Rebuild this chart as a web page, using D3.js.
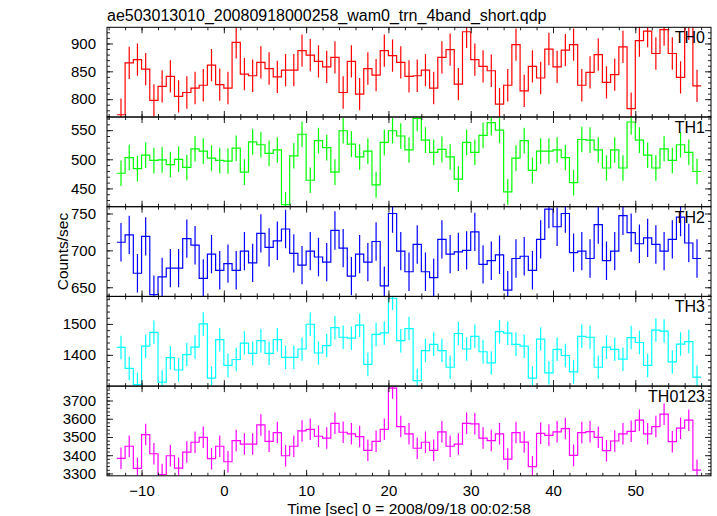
<!DOCTYPE html>
<html><head><meta charset="utf-8">
<script src="https://cdn.jsdelivr.net/npm/d3@7"></script>
<style>
body{margin:0;background:#fff}
svg{display:block}
text{font-family:"Liberation Sans",Arial,Helvetica,sans-serif}
</style>
</head><body>
<svg id="chart" width="717" height="516"></svg>
<script>
const chartTitle = "ae503013010_20080918000258_wam0_trn_4band_short.qdp";
const xTitle = "Time [sec] 0 = 2008/09/18 00:02:58";
const yTitle = "Counts/sec";

const times = [-12.5,-11.5,-10.5,-9.5,-8.5,-7.5,-6.5,-5.5,-4.5,-3.5,-2.5,-1.5,-0.5,0.5,1.5,2.5,3.5,4.5,5.5,6.5,7.5,8.5,9.5,10.5,11.5,12.5,13.5,14.5,15.5,16.5,17.5,18.5,19.5,20.5,21.5,22.5,23.5,24.5,25.5,26.5,27.5,28.5,29.5,30.5,31.5,32.5,33.5,34.5,35.5,36.5,37.5,38.5,39.5,40.5,41.5,42.5,43.5,44.5,45.5,46.5,47.5,48.5,49.5,50.5,51.5,52.5,53.5,54.5,55.5,56.5,57.5];

const th0 = [772,865,871,854,798,823,841,805,812,820,825,861,826,820,902,845,842,866,855,840,852,852,887,879,868,858,875,812,868,809,855,843,887,
  878,866,841,842,852,820,875,889,827,921,871,859,851,791,825,898,815,859,838,890,858,888,898,825,848,880,830,844,894,783,905,922,882,925,882,839,935,824];
const th1 = [476,503,484,507,498,499,491,500,486,518,514,502,498,497,519,478,530,525,510,516,422,506,543,464,532,520,478,549,526,504,514,456,529,
  549,540,516,570,533,512,517,504,466,529,512,541,563,550,444,502,532,481,514,514,516,503,460,534,533,516,485,516,485,564,533,507,485,518,498,525,512,479];
const th2 = [711,721,669,719,640,664,676,676,716,707,662,695,673,682,673,699,683,723,704,713,729,696,680,699,691,684,727,703,665,695,684,712,652,
  750,699,671,708,671,663,715,695,698,700,725,681,686,694,646,689,692,673,715,756,732,750,697,699,689,735,686,699,747,724,709,717,708,699,715,745,710,689];
const th3 = [1424,1356,1304,1428,1473,1312,1391,1351,1401,1425,1500,1325,1449,1366,1385,1438,1405,1446,1405,1449,1392,1392,1419,1499,1406,1430,1488,1457,1454,1496,1369,1466,1471,
  1583,1446,1485,1317,1414,1434,1414,1360,1469,1419,1460,1410,1374,1475,1470,1434,1428,1325,1451,1342,1418,1398,1345,1460,1457,1360,1425,1418,1386,1456,1440,1366,1480,1477,1377,1435,1443,1328];
const th0123 = [3383,3449,3328,3513,3408,3294,3397,3329,3417,3471,3498,3381,3449,3364,3480,3461,3461,3566,3476,3524,3397,3449,3533,3542,3504,3494,3575,3526,3517,3502,3427,3476,3542,
  3768,3557,3517,3438,3471,3427,3528,3449,3461,3575,3572,3494,3480,3517,3379,3524,3472,3337,3520,3509,3528,3546,3399,3524,3529,3498,3425,3478,3517,3531,3592,3517,3557,3625,3474,3548,3592,3318];

const panelNames = ["TH0","TH1","TH2","TH3","TH0123"];
const panelSeries = [th0, th1, th2, th3, th0123];
const panelErrors = [29, 22, 26, 38, 59];
const panelColors = ["#ff0000","#00ff00","#0000ff","#00ffff","#ff00ff"];
const panelDomains = [[768,929],[418.6,572.6],[637.6,759.2],[1299,1589],[3287,3779]];
const panelTicks = [[800,850,900],[450,500,550],[650,700,750],[1400,1500],[3300,3400,3500,3600,3700]];
const panelMinorSteps = [10,10,10,20,20];
const xMajorTicks = [-10,0,10,20,30,40,50];
const xMinorStep = 2;
const binWidth = 1;

const svg = d3.select("#chart");
const left = 107, right = 711, top0 = 27.3, panelH = 89.7;
const fontFam = '"Liberation Sans",Arial,Helvetica,sans-serif';

const x = d3.scaleLinear().domain([-14.2, 59.2]).range([left, right]);
const xMinor = d3.range(-14, 60, xMinorStep);

svg.append("text").attr("x", left).attr("y", 21).attr("font-size", 16).attr("fill","#000").text(chartTitle);

const defs = svg.append("defs");

panelNames.forEach((name, p) => {
  const pt = top0 + p * panelH, pb = pt + panelH;
  const y = d3.scaleLinear().domain(panelDomains[p]).range([pb, pt]);
  const g = svg.append("g");
  const clipId = "clip" + p;
  defs.append("clipPath").attr("id", clipId).append("rect")
    .attr("x", left).attr("y", pt).attr("width", right - left).attr("height", panelH);
  const data = times.map((t, i) => ({t, v: panelSeries[p][i], e: panelErrors[p]}));
  const pts = [];
  data.forEach(d => { pts.push([d.t - binWidth/2, d.v]); pts.push([d.t + binWidth/2, d.v]); });
  const line = d3.line().x(d => x(d[0])).y(d => y(d[1]));
  const dg = g.append("g").attr("clip-path", `url(#${clipId})`);
  dg.selectAll("line.err").data(data).enter().append("line")
    .attr("x1", d => x(d.t)).attr("x2", d => x(d.t))
    .attr("y1", d => y(d.v - d.e)).attr("y2", d => y(d.v + d.e))
    .attr("stroke", panelColors[p]).attr("stroke-width", 1.2);
  dg.append("path").attr("d", line(pts)).attr("fill","none")
    .attr("stroke", panelColors[p]).attr("stroke-width", 1.2);

  const yMinor = d3.range(Math.ceil(panelDomains[p][0]/panelMinorSteps[p])*panelMinorSteps[p], panelDomains[p][1], panelMinorSteps[p]);
  const addAxis = (axis, tr) => {
    const a = g.append("g").attr("transform", tr).call(axis);
    a.select(".domain").remove();
    a.selectAll("line").attr("stroke", "#222");
    a.attr("font-family", fontFam).attr("font-size", 15);
    a.selectAll("text").attr("fill", "#000");
    return a;
  };
  addAxis(d3.axisBottom(x).tickValues(xMinor).tickSize(-3).tickFormat(""), `translate(0,${pb})`);
  addAxis(d3.axisTop(x).tickValues(xMinor).tickSize(-3).tickFormat(""), `translate(0,${pt})`);
  addAxis(d3.axisTop(x).tickValues(xMajorTicks).tickSize(-6).tickFormat(""), `translate(0,${pt})`);
  if (p === panelNames.length - 1) {
    addAxis(d3.axisBottom(x).tickValues(xMajorTicks).tickSize(-6).tickPadding(10), `translate(0,${pb})`);
  } else {
    addAxis(d3.axisBottom(x).tickValues(xMajorTicks).tickSize(-6).tickFormat(""), `translate(0,${pb})`);
  }
  addAxis(d3.axisLeft(y).tickValues(yMinor).tickSize(-3).tickFormat(""), `translate(${left},0)`);
  addAxis(d3.axisRight(y).tickValues(yMinor).tickSize(-3).tickFormat(""), `translate(${right},0)`);
  addAxis(d3.axisLeft(y).tickValues(panelTicks[p]).tickSize(-6).tickPadding(11).tickFormat(d3.format("d")), `translate(${left},0)`);
  addAxis(d3.axisRight(y).tickValues(panelTicks[p]).tickSize(-6).tickFormat(""), `translate(${right},0)`);

  g.append("rect").attr("x", left).attr("y", pt).attr("width", right-left).attr("height", panelH)
    .attr("fill","none").attr("stroke","#000").attr("stroke-width",1);
  g.append("text").attr("x", 705).attr("y", pt + 16).attr("text-anchor","end")
    .attr("font-size", 16).attr("fill","#000").text(name);
});

svg.append("text").attr("x", (left+right)/2).attr("y", 514).attr("text-anchor","middle")
  .attr("font-size", 15.5).attr("fill","#000").text(xTitle);
svg.append("text").attr("transform", `translate(68,${top0 + 2.5*panelH}) rotate(-90)`)
  .attr("text-anchor","middle").attr("font-size", 15.5).attr("fill","#000").text(yTitle);
</script>
</body></html>
